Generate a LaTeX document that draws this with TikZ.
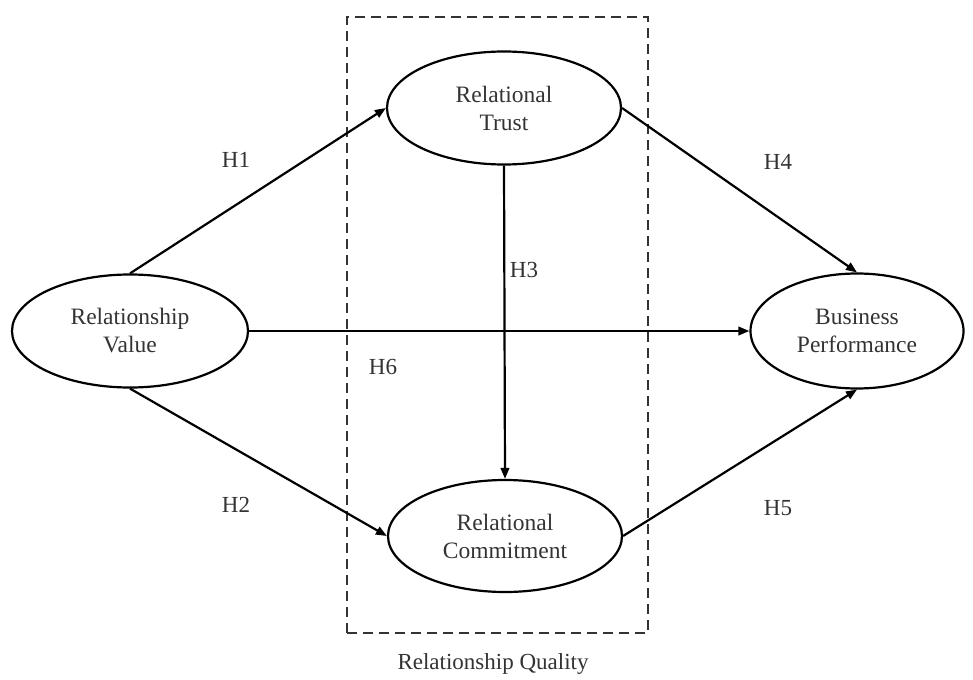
\documentclass[tikz,border=0pt]{standalone}
\usepackage{fontspec}
\setmainfont{Liberation Serif}
\usetikzlibrary{shapes.geometric,arrows.meta}
\begin{document}
\begin{tikzpicture}[x=1pt,y=-1pt,
  construct/.style={ellipse,draw,line width=2.2pt,inner sep=0pt,align=center,
    font=\fontsize{23.5}{28}\selectfont,text=black!80},
  link/.style={line width=2.2pt,-{Triangle[length=11pt,width=8.5pt]}},
  hlabel/.style={font=\fontsize{23}{27}\selectfont,text=black!80},
  groupbox/.style={draw=black!80,line width=2pt,dash pattern=on 10pt off 6pt}]
\useasboundingbox (0,0) rectangle (973,679);
\node[groupbox,minimum width=301pt,minimum height=616pt,inner sep=0pt] (rq) at (497.5,325) {};
\node[construct,minimum width=236pt,minimum height=113pt] (rv) at (130,331) {Relationship\\Value};
\node[construct,minimum width=234pt,minimum height=113pt] (rt) at (504,108) {Relational\\Trust};
\node[construct,minimum width=234pt,minimum height=112pt] (rc) at (505,536) {Relational\\Commitment};
\node[construct,minimum width=213pt,minimum height=115pt] (bp) at (857,331) {Business\\Performance};
\node[hlabel] (qlabel) at (493,664) {Relationship Quality};
\draw[link] (rv.north) -- (rt.west);
\draw[link] (rv.south) -- (rc.west);
\draw[link] (rt.south) -- (rc.north);
\draw[link] (rt.east) -- (bp.north);
\draw[link] (rc.east) -- (bp.south);
\draw[link] (rv.east) -- (bp.west);
\node[hlabel] (h1) at (236,160) {H1};
\node[hlabel] (h2) at (236,505) {H2};
\node[hlabel] (h3) at (524,270) {H3};
\node[hlabel] (h4) at (778,162) {H4};
\node[hlabel] (h5) at (778,508) {H5};
\node[hlabel] (h6) at (383,367) {H6};
\end{tikzpicture}
\end{document}
